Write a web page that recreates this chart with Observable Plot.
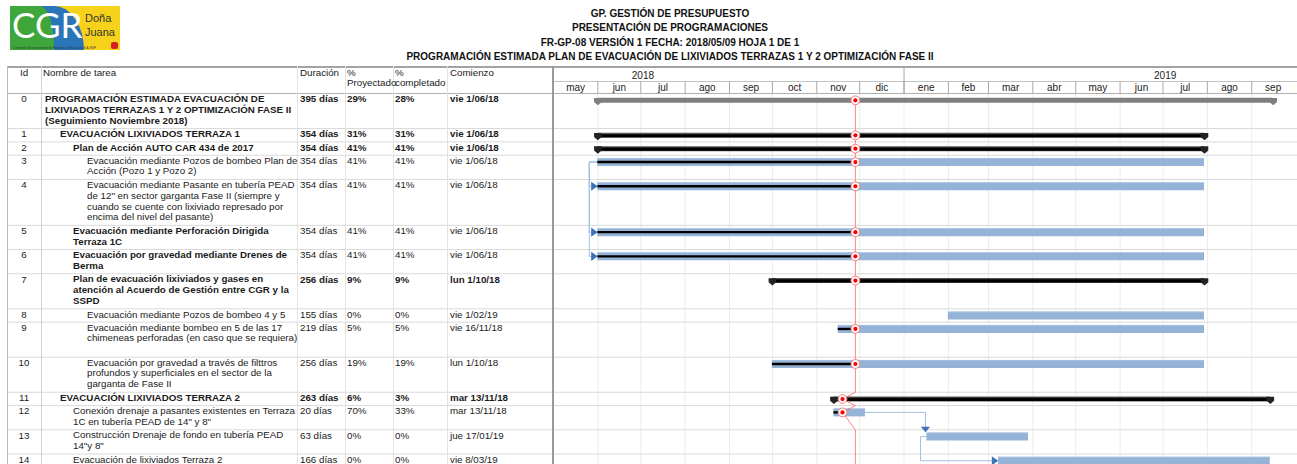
<!DOCTYPE html>
<html><head><meta charset="utf-8">
<script src="https://cdn.jsdelivr.net/npm/d3@7"></script>
<script src="https://cdn.jsdelivr.net/npm/@observablehq/plot@0.6"></script>
<style>
body{margin:0;background:#fff;}
#page{position:relative;width:1297px;height:464px;overflow:hidden;font-family:"Liberation Sans",Arial,Helvetica,sans-serif;color:#1a1a1a;}
.cell{position:absolute;white-space:nowrap;font-size:9.75px;}
.vline{position:absolute;top:66px;height:398px;width:1px;background:#dcdcdc;}
.title{position:absolute;left:320px;width:700px;text-align:center;font-weight:bold;font-size:11.5px;line-height:12px;transform:scaleX(0.87);transform-origin:350px 0;white-space:nowrap;color:#111;}
#logo{position:absolute;left:10px;top:6px;width:110px;height:44px;background:#f6d21b;}
#logo .blue{position:absolute;left:0;top:0;width:74px;height:44px;background:#2a74b9;border-top-right-radius:30px 44px;}
#logo .green{position:absolute;left:0;top:0;width:44px;height:44px;background:#3ea63a;border-top-right-radius:14px 40px;}
#logo .cgr{position:absolute;left:2px;top:-2px;line-height:41px;font-family:Lato,"Open Sans",sans-serif;font-size:35px;color:#fff;}
#logo .dj{position:absolute;left:75px;font-family:"Liberation Sans Narrow","Liberation Sans",Arial,sans-serif;font-size:11px;line-height:12px;color:#333;}
#logo .tiny{position:absolute;left:3px;top:40px;font-size:3px;line-height:4px;color:#333;white-space:nowrap;}
#logo .red{position:absolute;left:101px;top:36px;width:7px;height:7px;background:#d62020;border-radius:2px;}
</style></head>
<body><div id="page"></div>
<script>
// ---------------- data ----------------
const titleLines = [
  "GP. GESTIÓN DE PRESUPUESTO",
  "PRESENTACIÓN DE PROGRAMACIONES",
  "FR-GP-08 VERSIÓN 1 FECHA: 2018/05/09 HOJA 1  DE 1",
  "PROGRAMACIÓN ESTIMADA PLAN DE EVACUACIÓN DE LIXIVIADOS TERRAZAS 1 Y 2 OPTIMIZACIÓN FASE II"
];
const columnHeaders = ["Id", "Nombre de tarea", "Duración", "%\nProyectado", "%\ncompletado", "Comienzo"];
const ids = [0,1,2,3,4,5,6,7,8,9,10,11,12,13,14];
const taskNames = [
  ["PROGRAMACIÓN ESTIMADA EVACUACIÓN DE","LIXIVIADOS TERRAZAS 1 Y 2 OPTIMIZACIÓN FASE II","(Seguimiento Noviembre 2018)"],
  ["EVACUACIÓN LIXIVIADOS TERRAZA 1"],
  ["Plan de Acción AUTO CAR 434 de 2017"],
  ["Evacuación mediante Pozos de bombeo Plan de","Acción (Pozo 1 y Pozo 2)"],
  ["Evacuación mediante Pasante en tubería PEAD","de 12\" en sector garganta Fase II (siempre y","cuando se cuente con lixiviado represado por","encima del nivel del pasante)"],
  ["Evacuación mediante Perforación Dirigida","Terraza 1C"],
  ["Evacuación por gravedad mediante Drenes de","Berma"],
  ["Plan de evacuación lixiviados y gases en","atención al Acuerdo de Gestión entre CGR y la","SSPD"],
  ["Evacuación mediante Pozos de bombeo 4 y 5"],
  ["Evacuación mediante bombeo en 5 de las 17","chimeneas perforadas (en caso que se requiera)",""],
  ["Evacuación por gravedad a través de filttros","profundos y superficiales en el sector de la","garganta de Fase II"],
  ["EVACUACIÓN LIXIVIADOS TERRAZA 2"],
  ["Conexión drenaje a pasantes existentes en Terraza","1C en tubería PEAD de 14\" y 8\""],
  ["Construcción Drenaje de fondo en tubería PEAD","14\"y 8\""],
  ["Evacuación de lixiviados Terraza 2"]
];
const outlineLevels = [0,1,2,3,3,2,2,2,3,3,3,1,2,2,2];
const rowKinds = ["project","summary","summary","task","task","task","task","summary","task","task","task","summary","task","task","task"];
const boldNames = [true,true,true,false,false,true,true,true,false,false,false,true,false,false,false];
const durations = ["395 días","354 días","354 días","354 días","354 días","354 días","354 días","256 días","155 días","219 días","256 días","263 días","20 días","63 días","166 días"];
const pctProjected = ["29%","31%","41%","41%","41%","41%","41%","9%","0%","5%","19%","6%","70%","0%","0%"];
const pctCompleted = ["28%","31%","41%","41%","41%","41%","41%","9%","0%","5%","19%","3%","33%","0%","0%"];
const startLabels = ["vie 1/06/18","vie 1/06/18","vie 1/06/18","vie 1/06/18","vie 1/06/18","vie 1/06/18","vie 1/06/18","lun 1/10/18","vie 1/02/19","vie 16/11/18","lun 1/10/18","mar 13/11/18","mar 13/11/18","jue 17/01/19","vie 8/03/19"];
const startDates = ["2018-06-01","2018-06-01","2018-06-01","2018-06-01","2018-06-01","2018-06-01","2018-06-01","2018-10-01","2019-02-01","2018-11-16","2018-10-01","2018-11-13","2018-11-13","2019-01-17","2019-03-08"];
const endDates = ["2019-09-16","2019-07-30","2019-07-30","2019-07-30","2019-07-30","2019-07-30","2019-07-30","2019-07-30","2019-07-30","2019-07-30","2019-07-30","2019-09-14","2018-12-05","2019-03-29","2019-09-14"];
const progressDates = ["2018-11-28","2018-11-28","2018-11-28","2018-11-28","2018-11-28","2018-11-28","2018-11-28","2018-11-28",null,"2018-11-28","2018-11-28","2018-11-19","2018-11-19",null,null];
const statusDate = "2018-11-28";
const links = [
  {from:3, to:4, type:"SS"}, {from:3, to:5, type:"SS"}, {from:3, to:6, type:"SS"},
  {from:12, to:13, type:"FS"}, {from:13, to:14, type:"SS"}
];
const monthLabels = ["may","jun","jul","ago","sep","oct","nov","dic","ene","feb","mar","abr","may","jun","jul","ago","sep"];
const firstMonth = [2018, 4];
const yearLabels = ["2018","2019"];
const timeDomain = ["2018-05-01","2019-10-03"];

// ---------------- layout helpers ----------------
const D = s => new Date(s + "T00:00:00Z");
const DAY = 864e5;
const shift = (d, days) => new Date(d.getTime() + days*DAY);
const LINE = 10.85, PAD = 2.5;
const SVG_TOP = 66, BODY_TOP = 93;
const marginTop = BODY_TOP - SVG_TOP;
const H = 464 - SVG_TOP;
const bodyH = 464 - BODY_TOP;
const tableLeft = 7, ganttLeft = 553;

let acc = 0;
const rows = ids.map((id, i) => {
  const r = {
    id, i, lines: taskNames[i], level: outlineLevels[i], kind: rowKinds[i],
    start: D(startDates[i]), end: D(endDates[i]),
    progress: progressDates[i] ? D(progressDates[i]) : null
  };
  r.top = acc; r.h = PAD + LINE*r.lines.length; acc += r.h;
  r.bar = r.top + 6.8;
  return r;
});
const boundaries = rows.map(r => r.top + r.h);
const status = D(statusDate);

const monthRecs = monthLabels.map((label, k) => {
  const start = new Date(Date.UTC(firstMonth[0], firstMonth[1] + k, 1));
  const end = new Date(Date.UTC(firstMonth[0], firstMonth[1] + k + 1, 1));
  return {label, start, end, mid: new Date((start.getTime()+end.getTime())/2)};
});
const yearRecs = yearLabels.map(label => {
  const y = +label;
  return {label, start: new Date(Date.UTC(y,0,1)), mid: new Date((Date.UTC(y,0,1)+Date.UTC(y+1,0,1))/2)};
});

const tasks = rows.filter(r => r.kind === "task");
const summaries = rows.filter(r => r.kind !== "task");
const withProgress = rows.filter(r => r.progress);
const taskProgress = tasks.filter(r => r.progress);
const caps = summaries.flatMap(r => [{x:r.start, y:r.bar, kind:r.kind}, {x:r.end, y:r.bar, kind:r.kind}]);

// dependency link paths
const linkPts = [], arrowsRight = [], arrowsDown = [];
links.forEach((l, k) => {
  const a = rows[l.from], b = rows[l.to];
  if (l.type === "SS") {
    const back = l.from === 13 ? 4.5 : 6;
    const xv = shift(a.start, -back);
    [[a.start, a.bar], [xv, a.bar], [xv, b.bar], [shift(b.start, -3), b.bar]]
      .forEach(([x,y]) => linkPts.push({k, x, y}));
    arrowsRight.push({x: shift(b.start, -2.4), y: b.bar});
  } else {
    const xv = shift(b.start, -1);
    [[a.end, a.bar], [xv, a.bar], [xv, b.bar - 8]].forEach(([x,y]) => linkPts.push({k, x, y}));
    arrowsDown.push({x: xv, y: b.bar - 7});
  }
});

// status / progress line
const redPts = [{x: status, y: rows[0].bar}];
rows.slice(1).forEach(r => {
  redPts.push({x: status, y: r.top});
  redPts.push({x: r.progress || status, y: r.bar});
});
redPts.push({x: status, y: bodyH});

// custom symbols
const capSymbol = {draw(ctx, size){ const r=Math.sqrt(size/Math.PI);
  ctx.moveTo(-r,-r*0.62); ctx.lineTo(r,-r*0.62); ctx.lineTo(r,r*0.45); ctx.lineTo(0,r*1.3); ctx.lineTo(-r,r*0.45); ctx.closePath(); }};
const triRight = {draw(ctx, size){ const r=Math.sqrt(size/Math.PI);
  ctx.moveTo(-r*0.7,-r); ctx.lineTo(r*0.7,0); ctx.lineTo(-r*0.7,r); ctx.closePath(); }};
const triDown = {draw(ctx, size){ const r=Math.sqrt(size/Math.PI);
  ctx.moveTo(-r,-r*0.6); ctx.lineTo(r,-r*0.6); ctx.lineTo(0,r*0.6); ctx.closePath(); }};

// ---------------- plot ----------------
const hdr = y => y - BODY_TOP; // page-y of header element -> body units
const chart = Plot.plot({
  width: 1297, height: H,
  marginLeft: ganttLeft, marginRight: 0, marginTop, marginBottom: 0,
  x: {type: "utc", domain: timeDomain.map(D), axis: null},
  y: {type: "linear", domain: [0, bodyH], range: [marginTop, H], axis: null},
  style: {background: "transparent", overflow: "visible", fontFamily: "Liberation Sans, Arial, sans-serif", fontSize: "10px", color: "#222"},
  marks: [
    // month gridlines
    Plot.ruleX(monthRecs.slice(1), {x: "start", y1: 0, y2: bodyH, stroke: "#ececec"}),
    // row lines (across table)
    Plot.ruleY(boundaries, {y: d => d, insetLeft: -(ganttLeft - tableLeft), stroke: "#dadada"}),
    // header lines
    Plot.ruleY([hdr(66.5)], {y: d => d, insetLeft: -(ganttLeft - tableLeft), stroke: "#a3a3a3", strokeWidth: 2}),
    Plot.ruleY([0], {y: d => d, insetLeft: -(ganttLeft - tableLeft), stroke: "#b0b0b0"}),
    Plot.ruleY([hdr(81)], {y: d => d, stroke: "#c4c4c4"}),
    Plot.ruleX(monthRecs.slice(1), {x: "start", y1: hdr(81), y2: 0, stroke: "#a8a8a8"}),
    Plot.ruleX(yearRecs.slice(1), {x: "start", y1: hdr(66.5), y2: 0, stroke: "#a8a8a8"}),
    Plot.text(yearRecs, {x: "mid", y: hdr(75.5), text: "label", fill: "#222"}),
    Plot.text(monthRecs, {x: "mid", y: hdr(87.5), text: "label", fill: "#222"}),
    // dependency links
    Plot.line(linkPts, {x: "x", y: "y", z: "k", stroke: "#a3c0e4", strokeWidth: 1, curve: "linear"}),
    // task bars
    Plot.ruleY(tasks, {y: "bar", x1: "start", x2: "end", stroke: "#95b3d7", strokeWidth: 8}),
    Plot.ruleY(tasks, {y: "bar", x1: "start", x2: "end", stroke: "#b9cde6", strokeWidth: 0.6, dy: -3.7}),
    Plot.ruleY(taskProgress, {y: "bar", x1: "start", x2: "progress", stroke: "#000", strokeWidth: 2.4}),
    // summary bars
    Plot.ruleY(summaries.filter(r => r.kind === "project"), {y: "bar", x1: "start", x2: "end", stroke: "#7f7f7f", strokeWidth: 5}),
    Plot.ruleY(summaries.filter(r => r.kind === "summary"), {y: "bar", x1: "start", x2: "end", stroke: "#555", strokeWidth: 5}),
    Plot.ruleY(summaries.filter(r => r.kind === "summary"), {y: "bar", x1: "start", x2: "end", stroke: "#000", strokeWidth: 3.2, dy: 0.4}),
    Plot.dot(caps.filter(c => c.kind === "project"), {x: "x", y: "y", symbol: capSymbol, r: 3.8, fill: "#7f7f7f", stroke: "none"}),
    Plot.dot(caps.filter(c => c.kind === "summary"), {x: "x", y: "y", symbol: capSymbol, r: 3.8, fill: "#222", stroke: "none"}),
    // arrows
    Plot.dot(arrowsRight, {x: "x", y: "y", symbol: triRight, r: 4.6, fill: "#3d72b8", stroke: "none"}),
    Plot.dot(arrowsDown, {x: "x", y: "y", symbol: triDown, r: 4.6, fill: "#3d72b8", stroke: "none"}),
    // status line + progress points
    Plot.line(redPts, {x: "x", y: "y", stroke: "#ff5c5c", strokeOpacity: 0.75, strokeWidth: 1}),
    Plot.dot(withProgress, {x: "progress", y: "bar", r: 4.4, fill: "#fff", stroke: "#ff7b7b", strokeWidth: 1}),
    Plot.dot(withProgress, {x: "progress", y: "bar", r: 2.1, fill: "#ff0000", stroke: "none"})
  ]
});

// ---------------- page ----------------
const page = document.getElementById("page");
page.innerHTML = `<div id="logo"><div class="blue"></div><div class="green"></div><div class="cgr">CGR</div>
<div class="dj" style="top:6px">Doña</div><div class="dj" style="top:20px">Juana</div>
<div class="tiny">Centro de Gerenciamiento de Residuos Doña Juana S.A. ESP</div><div class="red"></div></div>`;
titleLines.forEach((t, k) => {
  const d = document.createElement("div");
  d.className = "title"; d.textContent = t;
  d.style.top = (7 + k*14.3) + "px";
  page.appendChild(d);
});
chart.style.position = "absolute"; chart.style.left = "0px"; chart.style.top = SVG_TOP + "px";
page.appendChild(chart);

// column dividers
[[tableLeft,"#b8b8b8"],[41,"#d4d4d4"],[297,"#e2e2e2"],[345,"#e2e2e2"],[393,"#e2e2e2"],[447,"#e2e2e2"]].forEach(([x,c]) => {
  const v = document.createElement("div"); v.className = "vline"; v.style.left = x + "px"; v.style.background = c; page.appendChild(v);
});
const sep = document.createElement("div"); sep.className = "vline"; sep.style.left = "552px"; sep.style.width = "1.5px"; sep.style.background = "#9a9a9a"; page.appendChild(sep);

// a text cell: `center` is the page-y of the first line's middle
function cell(text, left, center, opts = {}) {
  const d = document.createElement("div");
  const n = text.split("\n").length;
  const lh = n > 1 ? LINE : 8;
  d.className = "cell";
  d.style.lineHeight = lh + "px";
  d.style.left = left + "px"; d.style.top = (center - lh/2) + "px";
  if (opts.width) { d.style.width = opts.width + "px"; d.style.textAlign = "center"; }
  if (opts.bold) d.style.fontWeight = "bold";
  d.innerText = text;
  page.appendChild(d);
}
const colX = [7, 43, 300, 347, 395, 450];
columnHeaders.forEach((h, k) => cell(h, colX[k], 73, k === 0 ? {width: 34} : {}));
const indent = [45, 60, 73, 87];
rows.forEach((r, i) => {
  const c = BODY_TOP + r.top + 6.3;
  const b = r.kind !== "task";
  cell(String(r.id), 7, c, {width: 34});
  cell(r.lines.join("\n"), indent[r.level], c, {bold: boldNames[i]});
  cell(durations[i], colX[2], c, {bold: b});
  cell(pctProjected[i], colX[3], c, {bold: b});
  cell(pctCompleted[i], colX[4], c, {bold: b});
  cell(startLabels[i], colX[5], c, {bold: b});
});
</script></body></html>
